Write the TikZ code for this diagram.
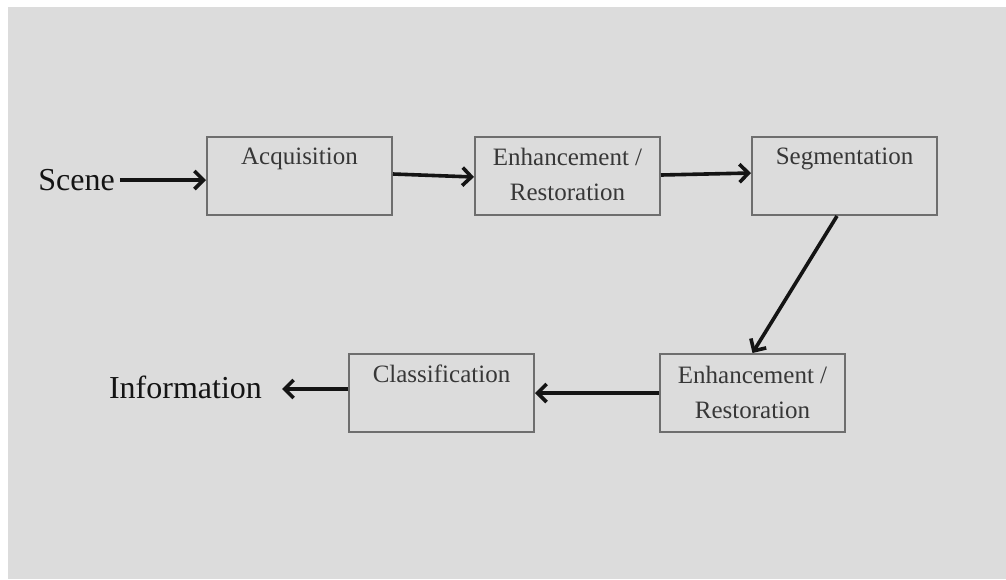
\documentclass[tikz,border=0pt]{standalone}
\usepackage{fontspec}
\setmainfont{Liberation Serif}
\usetikzlibrary{arrows.meta}
\definecolor{panel}{RGB}{220,220,220}
\definecolor{frame}{RGB}{110,110,110}
\definecolor{boxtext}{RGB}{55,55,55}
\definecolor{ink}{RGB}{20,20,20}
\tikzset{
  stagebox/.style={draw=frame, line width=2pt, fill=panel, minimum width=185pt, minimum height=78pt, inner sep=0pt},
  stagelabel/.style={font=\fontsize{25}{35}\selectfont, text=boxtext, align=center, inner sep=0pt, anchor=base},
  endlabel/.style={font=\fontsize{32}{38}\selectfont, text=ink, inner sep=0pt, anchor=base},
  flow/.style={draw=ink, line width=3.6pt, -{Straight Barb[length=9pt,width=18pt,line width=3.6pt]}}
}
\begin{document}
\begin{tikzpicture}[x=1pt,y=-1pt]
  % page and grey panel
  \fill[white] (0,0) rectangle (1006,579);
  \fill[panel] (8,7) rectangle (1006,579);
  \useasboundingbox (0,0) rectangle (1006,579);

  % processing stages
  \node[stagebox] (acq)  at (299.5,176) {};
  \node[stagebox] (enhA) at (567.5,176) {};
  \node[stagebox] (seg)  at (844.5,176) {};
  \node[stagebox] (enhB) at (752.5,393) {};
  \node[stagebox] (cls)  at (441.5,393) {};

  % stage names near the top of each box (two-line names sit on their last baseline)
  \node[stagelabel] (acqT)  at (299.5,164) {Acquisition};
  \node[stagelabel] (enhAT) at (567.5,200) {Enhancement /\\Restoration};
  \node[stagelabel] (segT)  at (844.5,164) {Segmentation};
  \node[stagelabel] (enhBT) at (752.5,418) {Enhancement /\\Restoration};
  \node[stagelabel] (clsT)  at (441.5,382) {Classification};

  % input and output
  \node[endlabel] (scene) at (76.5,190) {Scene};
  \node[endlabel] (info)  at (185.5,398) {Information};

  % connectors
  \draw[flow] ([xshift=5pt,yshift=10pt]scene.base east) -- ([yshift=-4pt]acq.west);
  \draw[flow] ([yshift=2pt]acq.east) -- ([yshift=-1pt]enhA.west);
  \draw[flow] ([yshift=1pt]enhA.east) -- ([yshift=3pt]seg.west);
  \draw[flow] ([xshift=-7.5pt]seg.south) -- (enhB.north);
  \draw[flow] (enhB.west) -- (cls.east);
  \draw[flow] ([yshift=4pt]cls.west) -- ([xshift=20pt,yshift=9pt]info.base east);
\end{tikzpicture}
\end{document}
